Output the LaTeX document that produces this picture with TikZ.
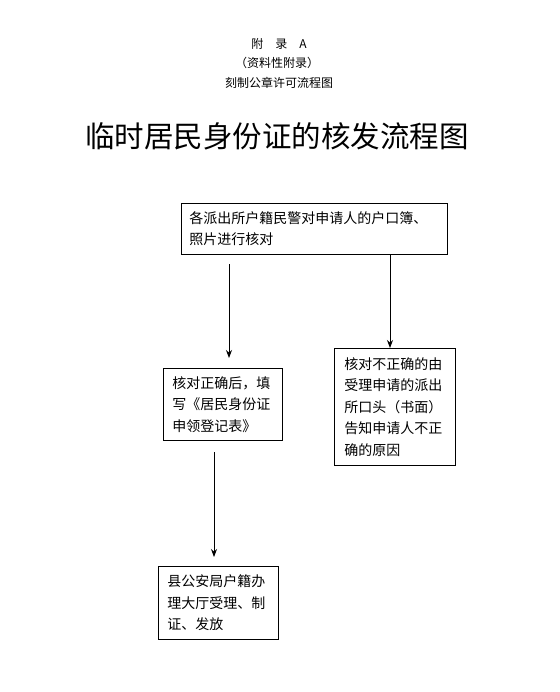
\documentclass[tikz,border=0pt]{standalone}
\usepackage{fontspec}
\setmainfont{Noto Sans CJK SC}
\usetikzlibrary{arrows.meta}
\begin{document}
\begin{tikzpicture}[x=1pt,y=-1pt,
  flowbox/.style={draw, line width=0.8pt, rectangle, anchor=north west, align=left,
    font=\fontsize{14pt}{21.5pt}\selectfont, inner ysep=2pt},
  flowarrow/.style={line width=0.8pt, -{Stealth[length=8pt,width=6pt]}},
  small/.style={font=\fontsize{12pt}{14pt}\selectfont}
]
\useasboundingbox (0,0) rectangle (559,692);
\fill[white] (0,0) rectangle (559,692);
\node[small] (t1) at (279,44) {附\hspace{1em}录\hspace{1em}A};
\node[small] (t2) at (277,63) {（资料性附录）};
\node[small] (t3) at (279,83) {刻制公章许可流程图};
\node[font=\fontsize{29.5pt}{31pt}\selectfont] (title) at (277,136) {临时居民身份证的核发流程图};

\node[flowbox, inner xsep=8pt, text width=250pt, minimum width=266pt, minimum height=51pt] (b1) at (181,203)
  {各派出所户籍民警对申请人的户口簿、\\照片进行核对};
\node[flowbox, inner xsep=9pt, text width=101pt, minimum width=119pt, minimum height=72pt] (b2) at (163,368)
  {核对正确后，填\\写《居民身份证\\申领登记表》};
\node[flowbox, inner xsep=10pt, text width=101pt, minimum width=121pt, minimum height=117pt] (b3) at (334,348)
  {核对不正确的由\\受理申请的派出\\所口头（书面）\\告知申请人不正\\确的原因};
\node[flowbox, inner xsep=9pt, text width=102pt, minimum width=120pt, minimum height=73pt] (b4) at (158,566)
  {县公安局户籍办\\理大厅受理、制\\证、发放};

\coordinate (a1s) at (229,264);
\coordinate (a1e) at (229,358);
\draw[flowarrow] (a1s) -- (a1e);
\coordinate (a2x) at (390,0);
\draw[flowarrow] (b1.south -| a2x) -- (b3.north -| a2x);
\coordinate (a3s) at (214,452);
\coordinate (a3e) at (214,557);
\draw[flowarrow] (a3s) -- (a3e);
\end{tikzpicture}
\end{document}
